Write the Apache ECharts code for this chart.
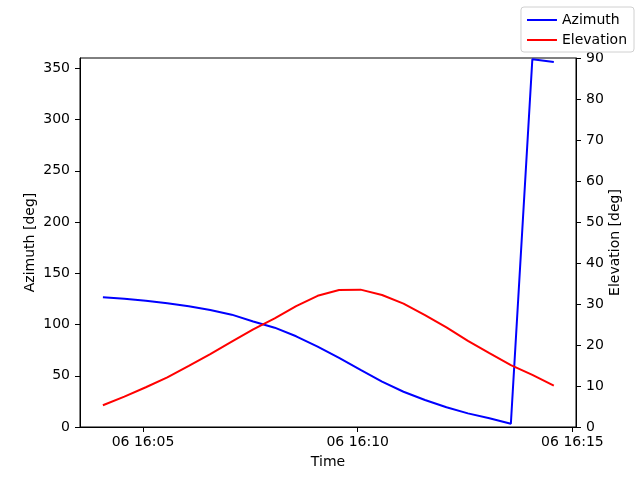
<!DOCTYPE html>
<html>
<head>
<meta charset="utf-8">
<script src="https://cdn.jsdelivr.net/npm/echarts@6/dist/echarts.min.js"></script>
<style>
  html, body { margin: 0; padding: 0; background: #fff; }
  #chart { width: 640px; height: 480px; }
</style>
</head>
<body>
<div id="chart"></div>
<script>
var day = 6;
var times = ['16:04:04', '16:04:34', '16:05:04', '16:05:34', '16:06:04', '16:06:34',
    '16:07:04', '16:07:34', '16:08:04', '16:08:34', '16:09:04', '16:09:34',
    '16:10:04', '16:10:34', '16:11:04', '16:11:34', '16:12:04', '16:12:34',
    '16:13:04', '16:13:34', '16:14:04', '16:14:34'];
var azimuth = [126.5, 125.2, 123.2, 120.7, 117.8, 114.1, 109.6, 103.0, 96.9, 88.5,
    78.5, 67.5, 55.8, 44.2, 34.4, 26.3, 19.2, 13.3, 8.5, 3.2, 358.8, 356.2];
var elevation = [5.3, 7.4, 9.7, 12.1, 14.9, 17.8, 20.8, 23.8, 26.5, 29.5,
    32.0, 33.4, 33.5, 32.2, 30.1, 27.3, 24.3, 21.0, 18.0, 15.1, 12.7, 10.1];
var xTicks = ['16:05', '16:10', '16:15'];
var xRange = ['16:03:32.5', '16:15:05.5'];

(function (window, document) {
    'use strict';
    var font = 'DejaVu Sans';
    var fontSize = 14;

    function toMs(hms) {
        var p = hms.split(':');
        return Date.UTC(2024, 0, day, +p[0], +p[1], parseFloat(p[2] || 0));
    }
    function pad(n) {
        return ('0' + n).slice(-2);
    }
    function tickLabel(val) {
        var d = new Date(val);
        return pad(d.getUTCDate()) + ' ' + pad(d.getUTCHours()) + ':' + pad(d.getUTCMinutes());
    }

    var azData = times.map(function (t, i) { return [toMs(t), azimuth[i]]; });
    var elData = times.map(function (t, i) { return [toMs(t), elevation[i]]; });
    var tickVals = xTicks.map(toMs);

    var myChart = echarts.init(document.getElementById('chart'));
    var axisCommon = {
        nameMoveOverlap: false,
        axisLine: { show: true, lineStyle: { color: '#000', width: 1 } },
        axisTick: { show: true, length: 5, lineStyle: { color: '#000' } },
        axisLabel: { color: '#000', fontFamily: font, fontSize: fontSize },
        splitLine: { show: false },
        nameTextStyle: { color: '#000', fontFamily: font, fontSize: fontSize }
    };

    var option = {
        animation: false,
        backgroundColor: '#fff',
        textStyle: { fontFamily: font },
        grid: {
            left: 80, right: 64, top: 58, bottom: 53,
            show: true, borderColor: '#000', borderWidth: 1,
            containLabel: false
        },
        legend: {
            orient: 'vertical',
            right: 6, top: 7,
            padding: [6, 7, 5, 6],
            itemGap: 6,
            itemWidth: 30, itemHeight: 2,
            borderColor: '#d0d0d0', borderWidth: 1, borderRadius: 3,
            backgroundColor: 'rgba(255,255,255,0.8)',
            textStyle: { color: '#000', fontFamily: font, fontSize: fontSize },
            data: [
                { name: 'Azimuth', icon: 'rect' },
                { name: 'Elevation', icon: 'rect' }
            ]
        },
        xAxis: Object.assign({}, axisCommon, {
            type: 'value',
            min: toMs(xRange[0]),
            max: toMs(xRange[1]),
            name: 'Time',
            nameLocation: 'middle',
            nameGap: 28,
            axisLabel: Object.assign({}, axisCommon.axisLabel, {
                customValues: tickVals,
                formatter: tickLabel,
                margin: 8
            }),
            axisTick: Object.assign({}, axisCommon.axisTick, { customValues: tickVals })
        }),
        yAxis: [
            Object.assign({}, axisCommon, {
                type: 'value',
                min: 0, max: 360, interval: 50,
                name: 'Azimuth [deg]',
                nameLocation: 'middle',
                nameRotate: 90,
                nameGap: 43,
                position: 'left',
                axisLabel: Object.assign({}, axisCommon.axisLabel, { margin: 10, showMaxLabel: false })
            }),
            Object.assign({}, axisCommon, {
                type: 'value',
                min: 0, max: 90, interval: 10,
                name: 'Elevation [deg]',
                nameLocation: 'middle',
                nameRotate: 90,
                nameGap: 32,
                position: 'right',
                axisLabel: Object.assign({}, axisCommon.axisLabel, { margin: 10 })
            })
        ],
        series: [{
            name: 'Azimuth',
            type: 'line',
            yAxisIndex: 0,
            symbol: 'none',
            itemStyle: { color: '#0000ff' },
            lineStyle: { color: '#0000ff', width: 2 },
            data: azData
        }, {
            name: 'Elevation',
            type: 'line',
            yAxisIndex: 1,
            symbol: 'none',
            itemStyle: { color: '#ff0000' },
            lineStyle: { color: '#ff0000', width: 2 },
            data: elData
        }]
    };

    myChart.setOption(option);
})(window, document);
</script>
</body>
</html>
